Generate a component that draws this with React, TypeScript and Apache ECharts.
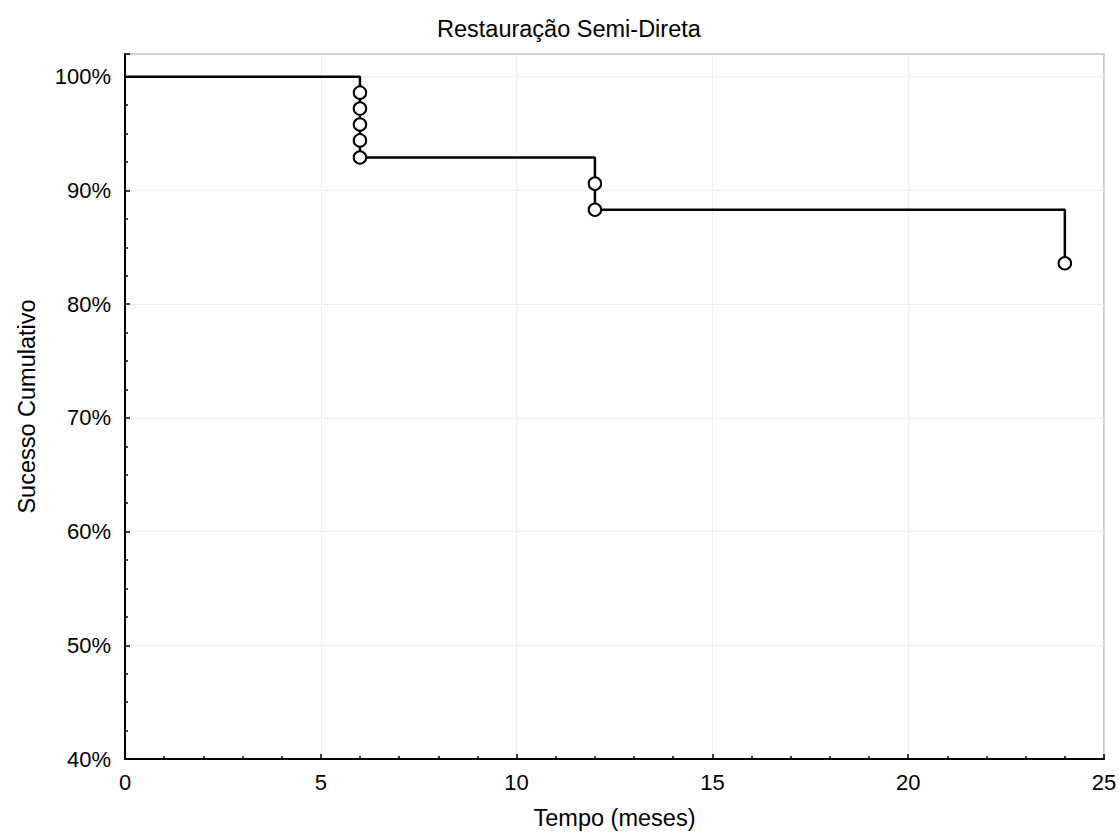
import React, { useEffect, useRef } from "react";
import * as echarts from "echarts";

const TITLE = "Restauração Semi-Direta";
const X_NAME = "Tempo (meses)";
const Y_NAME = "Sucesso Cumulativo";

// Kaplan-Meier step curve (time in months, cumulative success in %)
const stepTimes = [0, 6, 12, 24];
const stepValues = [100, 92.9, 88.3, 83.6];

// event / censoring markers
const markerTimes = [6, 6, 6, 6, 6, 12, 12, 24];
const markerValues = [98.6, 97.2, 95.8, 94.4, 92.9, 90.6, 88.3, 83.6];

export default function App() {
  const ref = useRef<HTMLDivElement>(null);
  useEffect(() => {
    if (!ref.current) return;
    const chart = echarts.init(ref.current, null, { renderer: "svg" });
    const font = "'Liberation Sans', Arial, sans-serif";
    chart.setOption({
      animation: false,
      backgroundColor: "#fff",
      title: {
        text: TITLE,
        left: 432,
        top: 12,
        textStyle: { fontFamily: font, fontSize: 23.5, fontWeight: "normal", color: "#000" },
      },
      grid: {
        left: 125,
        right: 15,
        top: 54,
        bottom: 77,
        show: true,
        borderColor: "#bdbdbd",
        borderWidth: 1.5,
        containLabel: false,
        outerBoundsMode: "none",
      },
      xAxis: {
        type: "value",
        min: 0,
        max: 25,
        interval: 5,
        name: X_NAME,
        nameLocation: "middle",
        nameGap: 47,
        nameTextStyle: { fontFamily: font, fontSize: 23.5, color: "#000" },
        axisLine: { show: true, lineStyle: { color: "#000", width: 2 } },
        axisTick: { show: true, inside: true, length: 5, lineStyle: { color: "#000", width: 1.5 } },
        minorTick: { show: true, splitNumber: 5, length: 3, lineStyle: { color: "#000", width: 1.5 } },
        axisLabel: { fontFamily: font, fontSize: 22, color: "#000", margin: 12 },
        splitLine: { show: true, lineStyle: { color: "#e0e0e0", type: "dotted", width: 1 } },
      },
      yAxis: {
        type: "value",
        min: 40,
        max: 102,
        interval: 10,
        name: Y_NAME,
        nameLocation: "middle",
        nameGap: 86,
        nameTextStyle: { fontFamily: font, fontSize: 23.5, color: "#000" },
        axisLine: { show: true, lineStyle: { color: "#000", width: 2 } },
        axisTick: { show: true, inside: true, length: 5, lineStyle: { color: "#000", width: 1.5 } },
        minorTick: { show: true, splitNumber: 4, length: 3, lineStyle: { color: "#000", width: 1.5 } },
        axisLabel: {
          fontFamily: font,
          fontSize: 22,
          color: "#000",
          margin: 14,
          formatter: (v: number) => (Math.abs(v % 10) < 1e-6 ? `${v}%` : ""),
        },
        splitLine: { show: true, lineStyle: { color: "#e0e0e0", type: "dotted", width: 1 } },
      },
      series: [
        {
          type: "line",
          step: "end",
          data: stepTimes.map((t, i) => [t, stepValues[i]]),
          showSymbol: false,
          symbol: "none",
          lineStyle: { color: "#000", width: 2.5 },
          z: 2,
        },
        {
          type: "scatter",
          data: markerTimes.map((t, i) => [t, markerValues[i]]),
          symbol: "circle",
          symbolSize: 12.5,
          itemStyle: { color: "#fff", borderColor: "#000", borderWidth: 2, opacity: 1 },
          z: 3,
        },
      ],
    });
    return () => chart.dispose();
  }, []);
  return (
    <div
      ref={ref}
      style={{ position: "absolute", left: 0, top: 0, width: 1119, height: 836 }}
    />
  );
}
